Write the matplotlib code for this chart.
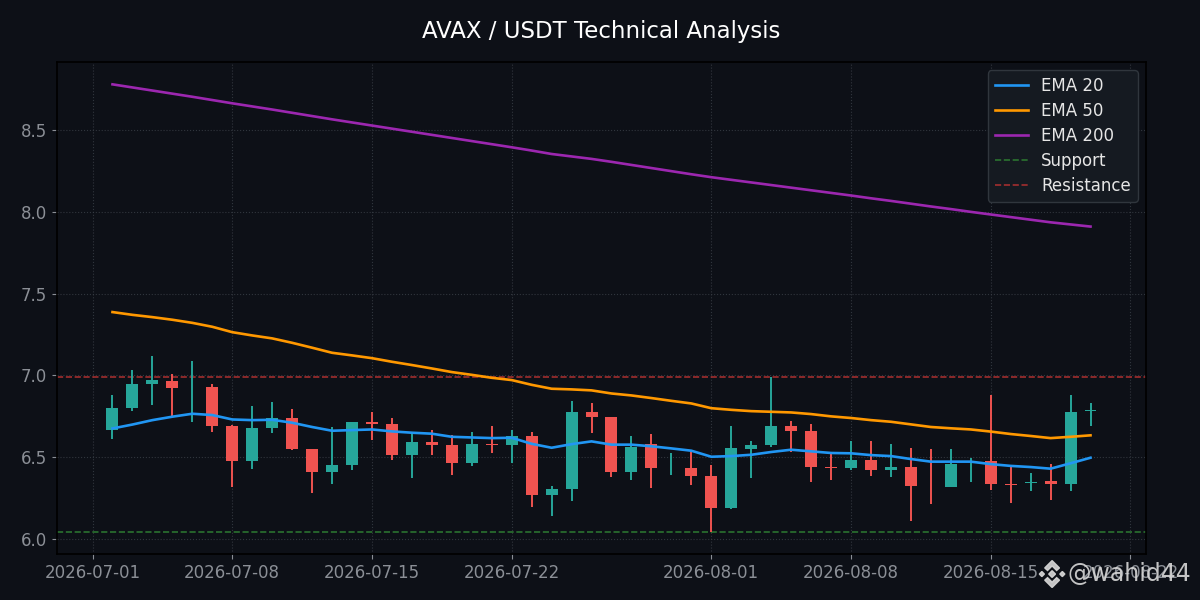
import pandas as pd
import numpy as np
import matplotlib.pyplot as plt
import matplotlib.dates as mdates
from matplotlib.patches import Polygon


dates = pd.date_range("2026-07-02", periods=50, freq="D")

opens = [6.668, 6.800, 6.947, 6.966, 6.930, 6.929, 6.691, 6.479, 6.680, 6.740,
         6.550, 6.410, 6.454, 6.715, 6.703, 6.515, 6.593, 6.575, 6.467, 6.581,
         6.577, 6.630, 6.271, 6.308, 6.776, 6.746, 6.411, 6.580, 6.436, 6.434,
         6.385, 6.190, 6.552, 6.575, 6.691, 6.660, 6.440, 6.434, 6.483, 6.424,
         6.440, 6.324, 6.320, 6.460, 6.477, 6.336, 6.343, 6.355, 6.338, 6.780]
highs = [6.880, 7.033, 7.119, 7.009, 7.088, 6.947, 6.697, 6.813, 6.837, 6.795,
         6.550, 6.685, 6.715, 6.776, 6.740, 6.644, 6.666, 6.634, 6.654, 6.691,
         6.666, 6.654, 6.324, 6.844, 6.831, 6.746, 6.630, 6.642, 6.526, 6.538,
         6.452, 6.691, 6.599, 6.990, 6.721, 6.703, 6.518, 6.599, 6.599, 6.580,
         6.556, 6.550, 6.550, 6.495, 6.880, 6.440, 6.403, 6.458, 6.880, 6.831]
lows = [6.613, 6.784, 6.821, 6.752, 6.717, 6.656, 6.320, 6.430, 6.650, 6.546,
        6.283, 6.338, 6.424, 6.607, 6.485, 6.375, 6.515, 6.393, 6.448, 6.528,
        6.467, 6.197, 6.142, 6.234, 6.650, 6.381, 6.363, 6.314, 6.393, 6.332,
        6.045, 6.185, 6.375, 6.562, 6.532, 6.348, 6.360, 6.422, 6.385, 6.379,
        6.110, 6.214, 6.320, 6.348, 6.301, 6.222, 6.295, 6.240, 6.295, 6.693]
closes = [6.800, 6.947, 6.972, 6.925, 6.930, 6.693, 6.479, 6.678, 6.740, 6.552,
          6.410, 6.452, 6.715, 6.705, 6.515, 6.593, 6.576, 6.467, 6.581, 6.577,
          6.630, 6.271, 6.306, 6.776, 6.748, 6.411, 6.564, 6.436, 6.436, 6.387,
          6.190, 6.556, 6.575, 6.691, 6.660, 6.440, 6.436, 6.483, 6.422, 6.440,
          6.324, 6.323, 6.458, 6.460, 6.338, 6.333, 6.350, 6.338, 6.776, 6.790]

ema20 = [6.676, 6.700, 6.727, 6.748, 6.766, 6.758, 6.731, 6.727, 6.729, 6.711,
         6.685, 6.662, 6.666, 6.670, 6.658, 6.650, 6.644, 6.625, 6.621, 6.617,
         6.619, 6.582, 6.558, 6.580, 6.597, 6.577, 6.577, 6.567, 6.554, 6.540,
         6.503, 6.507, 6.515, 6.532, 6.546, 6.536, 6.526, 6.524, 6.513, 6.507,
         6.489, 6.473, 6.473, 6.473, 6.458, 6.447, 6.440, 6.430, 6.463, 6.497]
ema50 = [7.388, 7.371, 7.357, 7.341, 7.322, 7.298, 7.265, 7.245, 7.227, 7.200,
         7.170, 7.139, 7.123, 7.106, 7.084, 7.064, 7.043, 7.021, 7.004, 6.986,
         6.972, 6.943, 6.919, 6.915, 6.909, 6.890, 6.878, 6.862, 6.845, 6.829,
         6.800, 6.790, 6.782, 6.778, 6.774, 6.764, 6.750, 6.740, 6.727, 6.717,
         6.701, 6.685, 6.677, 6.670, 6.657, 6.642, 6.630, 6.617, 6.625, 6.634]
ema200 = [8.781, 8.762, 8.743, 8.724, 8.705, 8.685, 8.665, 8.646, 8.627, 8.607,
          8.587, 8.567, 8.548, 8.529, 8.510, 8.491, 8.472, 8.453, 8.434, 8.415,
          8.396, 8.376, 8.355, 8.340, 8.325, 8.307, 8.288, 8.269, 8.250, 8.231,
          8.213, 8.197, 8.181, 8.165, 8.149, 8.133, 8.117, 8.101, 8.084, 8.068,
          8.051, 8.034, 8.018, 8.001, 7.985, 7.969, 7.953, 7.937, 7.924, 7.911]

support = 6.045
resistance = 6.99

bg = "#0d1017"
up_color = "#26a69a"
down_color = "#ef5350"

df = pd.DataFrame({"Open": opens, "High": highs, "Low": lows, "Close": closes,
                   "EMA20": ema20, "EMA50": ema50, "EMA200": ema200}, index=dates)

fig = plt.figure(figsize=(12, 6), dpi=100, facecolor=bg)
ax = fig.add_axes([0.0475, 0.0767, 0.9075, 0.82])
ax.set_facecolor(bg)

colors = np.where(df["Close"] >= df["Open"], up_color, down_color)

# wicks
ax.vlines(df.index, df["Low"], df["High"], colors=colors, linewidth=1.4, zorder=2)
# bodies
body_bottom = df[["Open", "Close"]].min(axis=1)
body_height = (df["Close"] - df["Open"]).abs()
ax.bar(df.index, body_height, bottom=body_bottom, width=0.6, color=colors,
       linewidth=0, zorder=3)

ax.plot(df.index, df["EMA20"], color="#2196f3", linewidth=1.9, label="EMA 20", zorder=4)
ax.plot(df.index, df["EMA50"], color="#ff9800", linewidth=1.9, label="EMA 50", zorder=4)
ax.plot(df.index, df["EMA200"], color="#9c27b0", linewidth=1.9, label="EMA 200", zorder=4)

ax.axhline(support, color="#2e7d32", linestyle="--", linewidth=1.2, alpha=0.9,
           label="Support", zorder=1)
ax.axhline(resistance, color="#b23030", linestyle="--", linewidth=1.2, alpha=0.9,
           label="Resistance", zorder=1)

ax.xaxis.set_major_locator(mdates.DayLocator(bymonthday=[1, 8, 15, 22]))
ax.xaxis.set_major_formatter(mdates.DateFormatter("%Y-%m-%d"))
ax.set_yticks([6.0, 6.5, 7.0, 7.5, 8.0, 8.5])

ax.grid(True, color="#3a3f47", linestyle=":", linewidth=0.8, alpha=0.8)
ax.set_axisbelow(True)
ax.tick_params(colors="#8b8f96", labelsize=12)
for s in ax.spines.values():
    s.set_color("#000000")
    s.set_linewidth(1.2)

ax.set_title("AVAX / USDT Technical Analysis", color="white", fontsize=16.5, pad=17)

leg = ax.legend(loc="upper right", fontsize=12, facecolor="#151a21",
                edgecolor="#30363d", framealpha=1.0, labelcolor="#e6e6e6",
                labelspacing=0.42)

# watermark: logo + handle
lax = fig.add_axes([0.8649, 0.0196, 0.0237, 0.0473])
lax.set_xlim(-1, 1)
lax.set_ylim(-1, 1)
lax.axis("off")
wm = "#d8d8d8"


def diamond(cx, cy, r):
    return Polygon([(cx, cy + r), (cx + r, cy), (cx, cy - r), (cx - r, cy)],
                   closed=True, color=wm, alpha=0.9)


lax.add_patch(diamond(0, 0, 0.24))
lax.add_patch(diamond(-0.72, 0, 0.18))
lax.add_patch(diamond(0.72, 0, 0.18))
lax.add_patch(Polygon([(0, 0.95), (0.52, 0.43), (0.32, 0.25), (0, 0.57), (-0.32, 0.25), (-0.52, 0.43)],
                      closed=True, color=wm, alpha=0.9))
lax.add_patch(Polygon([(0, -0.95), (0.52, -0.43), (0.32, -0.25), (0, -0.57), (-0.32, -0.25), (-0.52, -0.43)],
                      closed=True, color=wm, alpha=0.9))

fig.text(0.993, 0.043, "@wahid44", color=wm, fontsize=17, ha="right", va="center", alpha=0.9)

plt.savefig("out.png", dpi=100, facecolor=bg)
